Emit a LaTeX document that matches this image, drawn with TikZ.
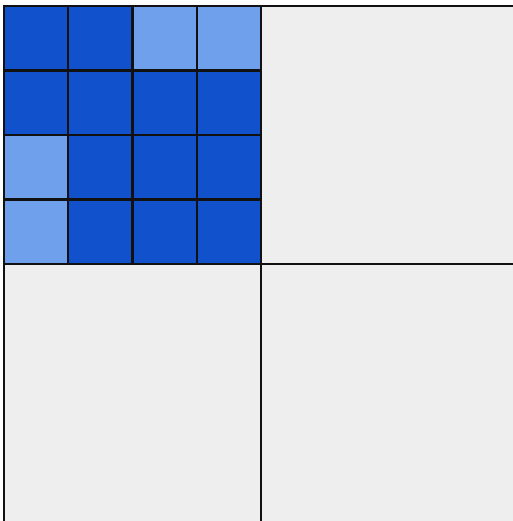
\documentclass[tikz,border=0pt]{standalone}
\usepackage{xcolor}
\usepackage{tikz}
\definecolor{ink}{RGB}{17,17,17}
\definecolor{deepblue}{RGB}{17,82,204}
\definecolor{paleblue}{RGB}{110,160,235}
\definecolor{paper}{RGB}{238,238,238}

\begin{document}
\begin{tikzpicture}[x=0.02cm, y=-0.02cm,
                    quad/.style={fill=paper, draw=ink, line width=1.3pt},
                    cell/.style={draw=ink, line width=1.3pt}]
  \useasboundingbox (0,0) rectangle (513,521);
  \clip (0,0) rectangle (513,521);
  \fill[white] (0,0) rectangle (513,521);
  % three empty quadrants
  \draw[quad] (261,6) rectangle (518,264);
  \draw[quad] (4,264) rectangle (261,524);
  \draw[quad] (261,264) rectangle (518,524);
  % refined quadrant, 4x4 cells
  \fill[deepblue] (4,6) rectangle (261,264);
  \foreach \c/\r in {2/0, 3/0, 0/2, 0/3}
    \fill[paleblue] ({4+64.25*\c},{6+64.5*\r}) rectangle ++(64.25,64.5);
  \foreach \c in {0,...,3}
    \foreach \r in {0,...,3}
      \draw[cell] ({4+64.25*\c},{6+64.5*\r}) rectangle ++(64.25,64.5);
\end{tikzpicture}
\end{document}
